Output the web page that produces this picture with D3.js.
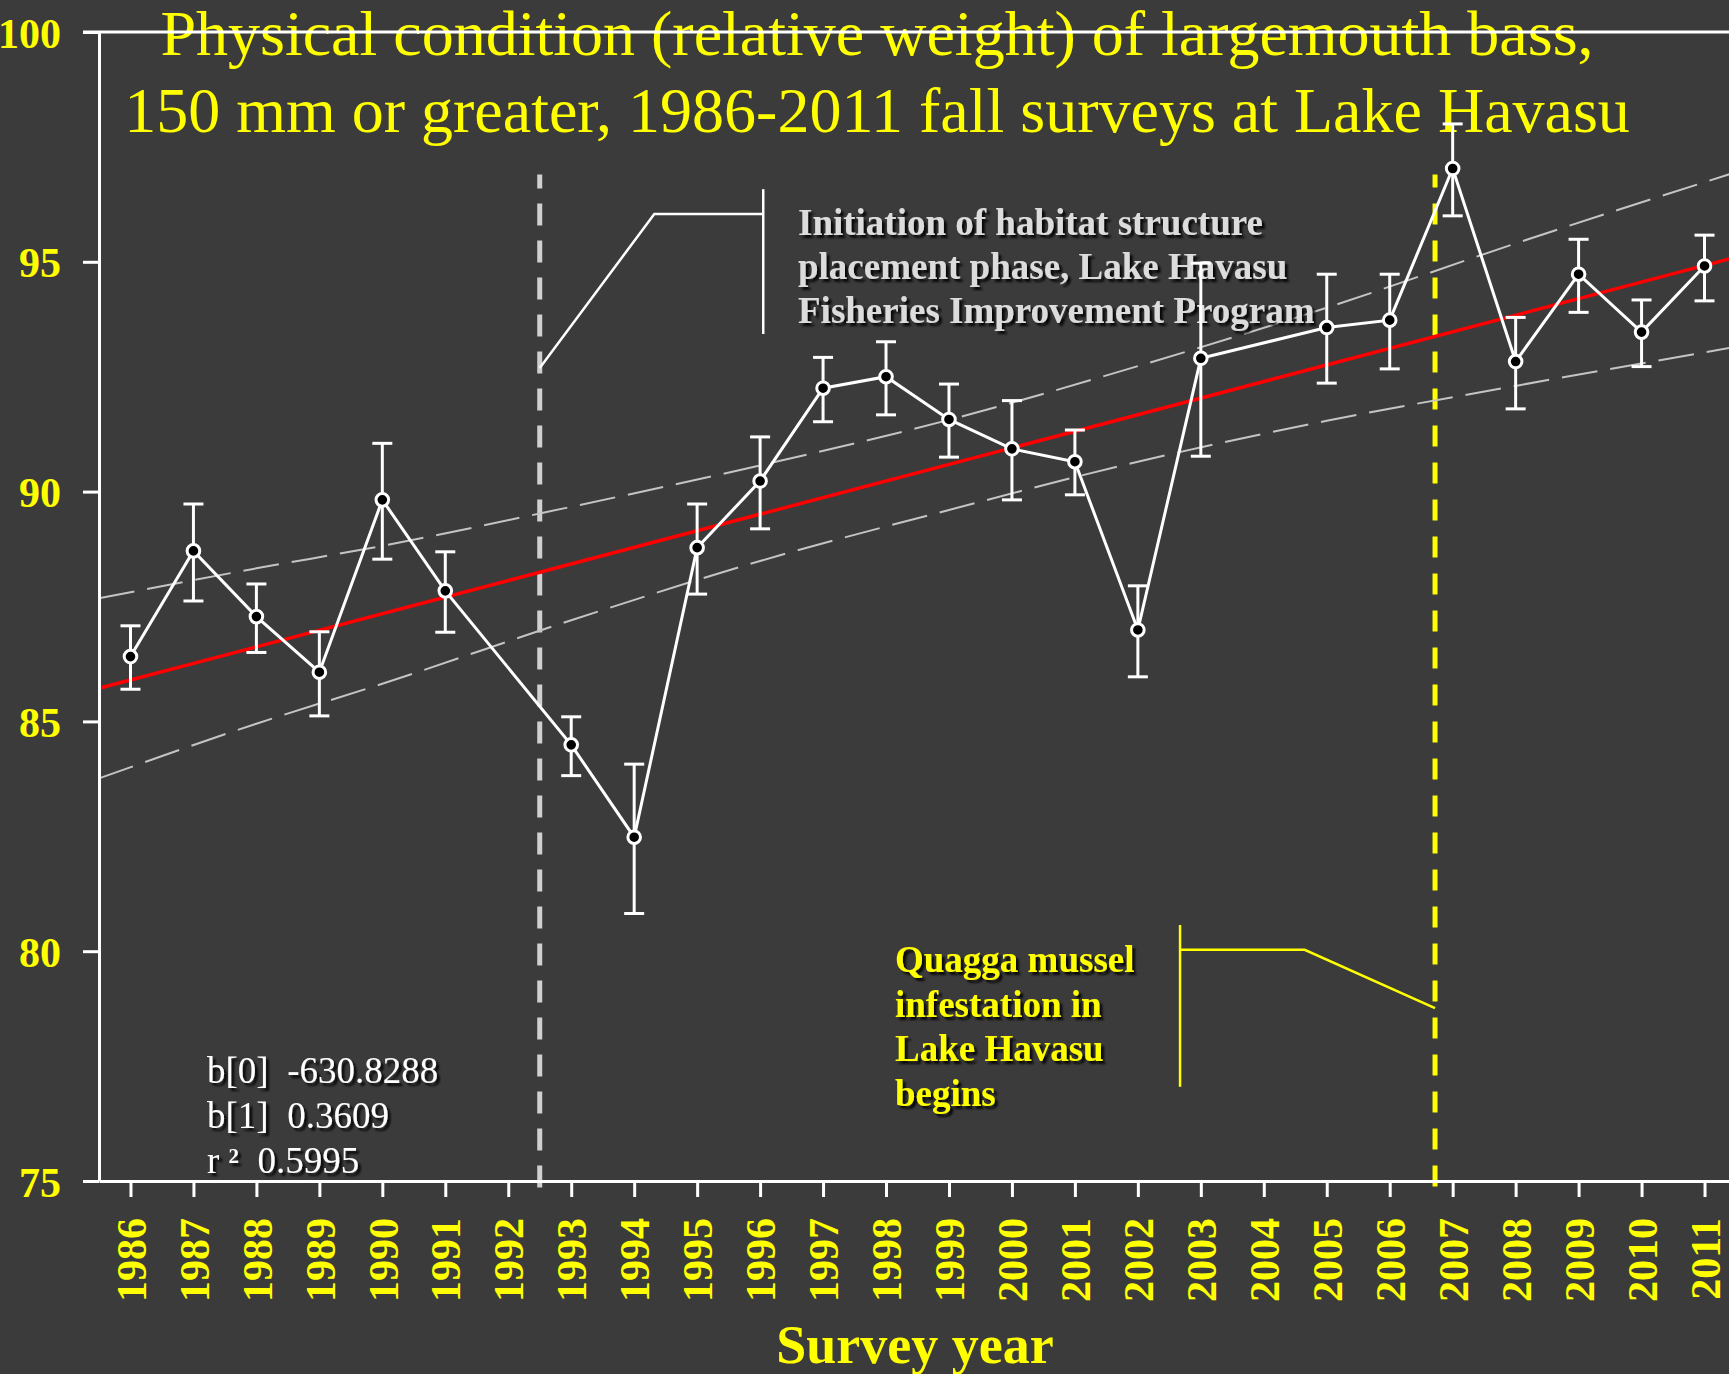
<!DOCTYPE html>
<html>
<head>
<meta charset="utf-8">
<script src="https://cdn.jsdelivr.net/npm/d3@7"></script>
<style>
  html, body { margin: 0; padding: 0; background: #3b3b3b; }
  svg { display: block; }
  text { font-family: "Liberation Serif", "Times New Roman", serif; }
</style>
</head>
<body>
<svg id="chart" width="1729" height="1374"></svg>
<script>
// survey years with data (1992 and 2004 not sampled)
const years = [1986, 1987, 1988, 1989, 1990, 1991, 1993, 1994, 1995, 1996, 1997, 1998,
               1999, 2000, 2001, 2002, 2003, 2005, 2006, 2007, 2008, 2009, 2010, 2011];
const meanWr = [86.41, 88.71, 87.28, 86.07, 89.82, 87.84, 84.49, 82.48, 88.78, 90.23, 92.25, 92.50,
                91.57, 90.93, 90.65, 86.99, 92.90, 93.57, 93.73, 97.03, 92.83, 94.73, 93.47, 94.91];
const upperWr = [87.08, 89.73, 87.99, 86.95, 91.05, 88.69, 85.10, 84.07, 89.73, 91.19, 92.92, 93.26,
                 92.34, 91.98, 91.34, 87.95, 94.97, 94.73, 94.73, 98.00, 93.79, 95.49, 94.17, 95.58];
const lowerWr = [85.70, 87.62, 86.50, 85.12, 88.53, 86.94, 83.82, 80.82, 87.77, 89.19, 91.52, 91.67,
                 90.75, 89.82, 89.93, 85.97, 90.77, 92.36, 92.67, 96.00, 91.80, 93.90, 92.72, 94.15];

// regression line and its confidence band
const fitYears = [1985.5, 2011.5];
const fitValues = [85.72, 95.10];
const bandYears = [1985.5, 1988, 1990, 1993, 1996, 1999, 2002, 2005, 2008, 2011.5];
const bandUpper = [87.68, 88.33, 88.82, 89.67, 90.57, 91.56, 92.73, 94.00, 95.40, 96.95];
const bandLower = [83.76, 84.95, 85.82, 87.20, 88.49, 89.60, 90.65, 91.54, 92.30, 93.15];

const xTicks = d3.range(1986, 2012);
const yTicks = [75, 80, 85, 90, 95, 100];

const statLines = ["b[0]  -630.8288", "b[1]  0.3609"];
const r2Value = "0.5995";
const titleLines = ["Physical condition (relative weight) of largemouth bass,",
                    "150 mm or greater, 1986-2011 fall surveys at Lake Havasu"];
const habitatNote = ["Initiation of habitat structure", "placement phase, Lake Havasu",
                     "Fisheries Improvement Program"];
const quaggaNote = ["Quagga mussel", "infestation in", "Lake Havasu", "begins"];

// event markers (year position) and callout shapes in data units
const habitatYear = 1992.5;
const quaggaYear = 2006.72;
const habitatPointer = [[1992.5, 92.69], [1994.32, 96.04], [1996.05, 96.04]];
const habitatBar = [[1996.05, 96.58], [1996.05, 93.43]];
const quaggaPointer = [[2002.67, 80.03], [2004.65, 80.03], [2006.72, 78.76]];
const quaggaBar = [[2002.67, 80.57], [2002.67, 77.05]];

const width = 1729, height = 1374;
const svg = d3.select('#chart');

svg.append('rect').attr('width', width).attr('height', height).attr('fill', '#3b3b3b');

const defs = svg.append('defs');
defs.append('filter').attr('id', 'shadow')
    .attr('x', '-10%').attr('y', '-20%').attr('width', '130%').attr('height', '150%')
  .append('feDropShadow')
    .attr('dx', 3).attr('dy', 3).attr('stdDeviation', 1.2)
    .attr('flood-color', '#000').attr('flood-opacity', 0.85);

const x = d3.scaleLinear().domain([1985.5, 2011.5]).range([99, 1736]);
const y = d3.scaleLinear().domain([75, 100]).range([1181, 32]);

const serif = '"Liberation Serif", "Times New Roman", serif';

// Title (drawn before the frame line, which crosses it)
const title = svg.append('text')
    .attr('text-anchor', 'middle')
    .attr('fill', '#ffff00')
    .style('font-size', '64px');
titleLines.forEach((t, i) => {
    title.append('tspan').attr('x', 877).attr('y', i === 0 ? 55 : 132).text(t);
});

// vertical event lines
const dash = svg.append('g');
dash.append('line')
    .attr('x1', x(habitatYear)).attr('x2', x(habitatYear))
    .attr('y1', y(96.9)).attr('y2', y(74.65))
    .attr('stroke', '#d0d0d0').attr('stroke-width', 5)
    .attr('stroke-dasharray', '22,15').attr('stroke-dashoffset', 8);
dash.append('line')
    .attr('x1', x(quaggaYear)).attr('x2', x(quaggaYear))
    .attr('y1', y(96.9)).attr('y2', y(74.65))
    .attr('stroke', '#ffff00').attr('stroke-width', 5)
    .attr('stroke-dasharray', '21,16').attr('stroke-dashoffset', 8);

// confidence band
const bandLine = d3.line().x(d => x(d[0])).y(d => y(d[1])).curve(d3.curveMonotoneX);
[bandUpper, bandLower].forEach(vals => {
    svg.append('path')
        .datum(bandYears.map((yr, i) => [yr, vals[i]]))
        .attr('d', bandLine)
        .attr('fill', 'none')
        .attr('stroke', '#c4c4c4')
        .attr('stroke-width', 2)
        .attr('stroke-dasharray', '36,13');
});

// regression line
svg.append('path')
    .datum(fitYears.map((yr, i) => [yr, fitValues[i]]))
    .attr('d', d3.line().x(d => x(d[0])).y(d => y(d[1])))
    .attr('fill', 'none')
    .attr('stroke', '#ff0000')
    .attr('stroke-width', 3.5);

// axes
const xAxis = svg.append('g')
    .attr('transform', `translate(0,${y(75)})`)
    .call(d3.axisBottom(x).tickValues(xTicks).tickFormat(d3.format('d'))
        .tickSize(16).tickSizeOuter(0));
xAxis.select('.domain').attr('stroke', '#fff').attr('stroke-width', 3);
xAxis.selectAll('.tick line').attr('stroke', '#fff').attr('stroke-width', 3);
xAxis.selectAll('.tick text')
    .attr('transform', 'rotate(-90)')
    .attr('x', -37).attr('y', 0).attr('dy', '0.35em')
    .attr('text-anchor', 'end')
    .attr('fill', '#ffff00')
    .style('font-family', serif)
    .style('font-weight', 'bold')
    .style('font-size', '42px');

const yAxis = svg.append('g')
    .attr('transform', `translate(${x(1985.5)},0)`)
    .call(d3.axisLeft(y).tickValues(yTicks).tickSize(16).tickSizeOuter(0).tickPadding(22));
yAxis.select('.domain').attr('stroke', '#fff').attr('stroke-width', 3);
yAxis.selectAll('.tick line').attr('stroke', '#fff').attr('stroke-width', 3);
yAxis.selectAll('.tick text')
    .attr('dy', '0.36em')
    .attr('fill', '#ffff00')
    .style('font-family', serif)
    .style('font-weight', 'bold')
    .style('font-size', '42px');

// top frame line at 100
svg.append('line')
    .attr('x1', x(1985.5) - 16).attr('x2', width)
    .attr('y1', y(100)).attr('y2', y(100))
    .attr('stroke', '#fff').attr('stroke-width', 3);

svg.append('text')
    .attr('x', 915).attr('y', 1363)
    .attr('text-anchor', 'middle')
    .attr('fill', '#ffff00')
    .style('font-weight', 'bold')
    .style('font-size', '54px')
    .text('Survey year');

// callouts
const calloutLine = d3.line().x(d => x(d[0])).y(d => y(d[1]));
[habitatPointer, habitatBar].forEach(pts => {
    svg.append('path').attr('d', calloutLine(pts))
        .attr('fill', 'none').attr('stroke', '#fff').attr('stroke-width', 2.5);
});
[quaggaPointer, quaggaBar].forEach(pts => {
    svg.append('path').attr('d', calloutLine(pts))
        .attr('fill', 'none').attr('stroke', '#ffff00').attr('stroke-width', 2.5);
});

const habitatText = svg.append('text')
    .attr('fill', '#dcdcdc')
    .attr('filter', 'url(#shadow)')
    .style('font-weight', 'bold')
    .style('font-size', '37px');
habitatNote.forEach((t, i) => {
    habitatText.append('tspan').attr('x', 798).attr('y', 235 + i * 44).text(t);
});

const quaggaText = svg.append('text')
    .attr('fill', '#ffff00')
    .attr('filter', 'url(#shadow)')
    .style('font-weight', 'bold')
    .style('font-size', '37px');
quaggaNote.forEach((t, i) => {
    quaggaText.append('tspan').attr('x', 895).attr('y', 972 + i * 44.5).text(t);
});

// regression statistics
const stats = svg.append('text')
    .attr('fill', '#fff')
    .attr('filter', 'url(#shadow)')
    .style('font-size', '37px')
    .style('white-space', 'pre');
statLines.forEach((t, i) => {
    stats.append('tspan').attr('x', 207).attr('y', 1083 + i * 45).text(t);
});
stats.append('tspan').attr('x', 207).attr('y', 1173).text('r ');
stats.append('tspan').attr('dy', -10).style('font-size', '21px').style('font-weight', 'bold').text('2');
stats.append('tspan').attr('dy', 10).text('  ' + r2Value);

// data: error bars, line, markers
const pts = years.map((yr, i) => ({ yr, v: meanWr[i], hi: upperWr[i], lo: lowerWr[i] }));

const bars = svg.append('g').attr('stroke', '#fff').attr('stroke-width', 3);
bars.selectAll('line.err').data(pts).join('line')
    .attr('class', 'err')
    .attr('x1', d => x(d.yr)).attr('x2', d => x(d.yr))
    .attr('y1', d => y(d.hi)).attr('y2', d => y(d.lo));
bars.selectAll('line.cap-hi').data(pts).join('line')
    .attr('class', 'cap-hi')
    .attr('x1', d => x(d.yr) - 10).attr('x2', d => x(d.yr) + 10)
    .attr('y1', d => y(d.hi)).attr('y2', d => y(d.hi));
bars.selectAll('line.cap-lo').data(pts).join('line')
    .attr('class', 'cap-lo')
    .attr('x1', d => x(d.yr) - 10).attr('x2', d => x(d.yr) + 10)
    .attr('y1', d => y(d.lo)).attr('y2', d => y(d.lo));

svg.append('path')
    .datum(pts)
    .attr('d', d3.line().x(d => x(d.yr)).y(d => y(d.v)))
    .attr('fill', 'none')
    .attr('stroke', '#fff')
    .attr('stroke-width', 3);

svg.append('g').selectAll('circle').data(pts).join('circle')
    .attr('cx', d => x(d.yr))
    .attr('cy', d => y(d.v))
    .attr('r', 6.3)
    .attr('fill', '#000')
    .attr('stroke', '#fff')
    .attr('stroke-width', 3);
</script>
</body>
</html>
